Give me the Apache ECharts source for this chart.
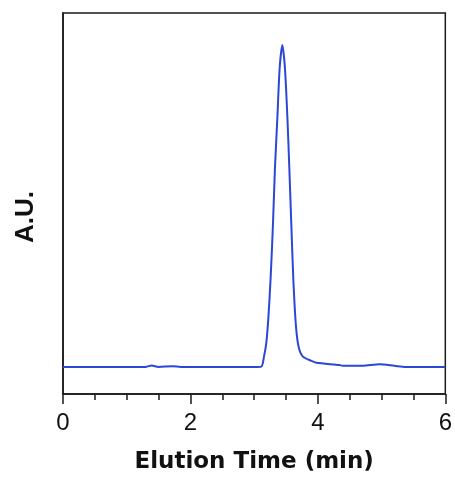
<!DOCTYPE html>
<html><head><meta charset="utf-8">
<script src="https://cdn.jsdelivr.net/npm/echarts@6/dist/echarts.min.js"></script>
<style>html,body{margin:0;padding:0;background:#fff}#c{width:455px;height:480px}</style>
</head><body><div id="c"></div>
<script>
var times = [0, 0.5, 1.0, 1.3, 1.39, 1.5, 1.72, 1.85, 2.5, 3.0, 3.113, 3.154, 3.191, 3.225, 3.260, 3.295, 3.326, 3.364, 3.400, 3.442, 3.483, 3.522, 3.552, 3.583, 3.615, 3.655, 3.697, 3.765, 3.896, 3.975, 4.34, 4.387, 4.7, 4.966, 5.2, 5.38, 6.0];
var signal = [0.071, 0.071, 0.071, 0.071, 0.075, 0.071, 0.073, 0.071, 0.071, 0.071, 0.072, 0.098, 0.135, 0.205, 0.310, 0.445, 0.592, 0.724, 0.855, 0.916, 0.855, 0.724, 0.592, 0.445, 0.300, 0.180, 0.124, 0.098, 0.087, 0.082, 0.076, 0.074, 0.074, 0.078, 0.074, 0.071, 0.071];
var xTicks = [0, 2, 4, 6];
var xTitle = 'Elution Time (min)';
var yTitle = 'A.U.';

var chart = echarts.init(document.getElementById('c'));
var data = times.map(function (t, i) { return [t, signal[i]]; });
chart.setOption({
  animation: false,
  grid: { left: 63, right: 9, top: 13, bottom: 86, show: true, borderColor: '#1a1a1a', borderWidth: 1.5, backgroundColor: 'transparent' },
  xAxis: {
    type: 'value', min: 0, max: 6, interval: 2,
    name: xTitle, nameLocation: 'middle', nameGap: 57,
    nameTextStyle: { fontFamily: 'DejaVu Sans', fontWeight: 'bold', fontSize: 23, color: '#111' },
    axisLine: { show: true, lineStyle: { color: '#1a1a1a', width: 1.5 } },
    axisTick: { show: true, length: 10, lineStyle: { color: '#1a1a1a', width: 1.5 } },
    minorTick: { show: true, splitNumber: 4, length: 6, lineStyle: { color: '#1a1a1a', width: 1.5 } },
    splitLine: { show: false },
    axisLabel: { fontFamily: 'Liberation Sans', fontSize: 24, color: '#111', margin: 17,
      formatter: function (v) { return xTicks.indexOf(v) >= 0 ? String(v) : ''; } }
  },
  yAxis: {
    type: 'value', min: 0, max: 1,
    axisLine: { show: true, lineStyle: { color: '#1a1a1a', width: 1.5 } },
    axisTick: { show: false }, axisLabel: { show: false }, splitLine: { show: false }
  },
  graphic: [{
    type: 'text', x: 26, y: 217, rotation: Math.PI / 2,
    style: { text: yTitle, fontFamily: 'Liberation Sans', fontWeight: 'bold', fontSize: 26, fill: '#111', align: 'center', verticalAlign: 'middle' }
  }],
  series: [{
    type: 'line', data: data, showSymbol: false, smooth: 0.25,
    lineStyle: { color: '#2b47d6', width: 2 }
  }]
});
</script></body></html>
